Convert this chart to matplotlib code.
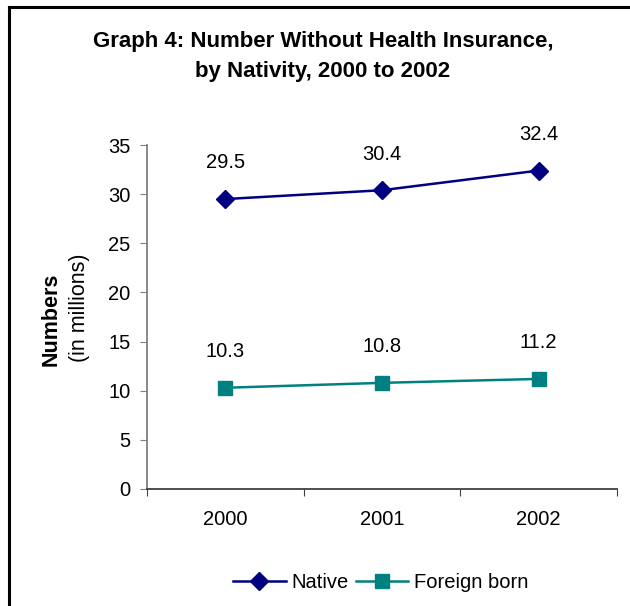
import matplotlib
matplotlib.use("Agg")
import matplotlib.pyplot as plt
from matplotlib.lines import Line2D

years = ["2000", "2001", "2002"]
native = [29.5, 30.4, 32.4]
foreign_born = [10.3, 10.8, 11.2]
y_ticks = [0, 5, 10, 15, 20, 25, 30, 35]

plt.rcParams['font.family'] = ['Liberation Sans', 'DejaVu Sans']

fig = plt.figure(figsize=(6.3, 6.06), dpi=100)
W, H = 630, 606

# outer frame (top and left edges)
fig.add_artist(Line2D([9 / W, 1.0], [1 - 7 / H, 1 - 7 / H], color="black", lw=2.2,
                      transform=fig.transFigure))
fig.add_artist(Line2D([9 / W, 9 / W], [0.0, 1 - 7 / H], color="black", lw=2.2,
                      transform=fig.transFigure))

ax = fig.add_axes([147 / W, 1 - 489 / H, (617 - 147) / W, (489 - 145) / H])

x = [0.5, 1.5, 2.5]
ax.plot(x, native, color="#000080", marker="D", markersize=9, lw=1.8,
        label="Native", clip_on=False)
ax.plot(x, foreign_born, color="#008080", marker="s", markersize=9.5, lw=1.8,
        label="Foreign born", clip_on=False)

for series in (native, foreign_born):
    for xi, v in zip(x, series):
        ax.annotate(f"{v:.1f}", (xi, v), xytext=(0, 26), textcoords="offset points",
                    ha="center", va="center", fontsize=14.5)

ax.set_xlim(0, 3)
ax.set_ylim(0, 35)
ax.set_yticks(y_ticks)
ax.set_yticklabels([str(t) for t in y_ticks], fontsize=14.5)
ax.set_xticks([0, 1, 2, 3])
ax.set_xticklabels([])
ax.set_xticks(x, minor=True)
ax.set_xticklabels(years, minor=True, fontsize=14.5)
ax.tick_params(axis="x", which="minor", length=0, pad=15)
ax.tick_params(axis="x", which="major", length=5, direction="out", color="#404040")
ax.tick_params(axis="y", length=5, direction="out", color="#808080", pad=7)

for s in ["top", "right"]:
    ax.spines[s].set_visible(False)
ax.spines["left"].set_color("#808080")
ax.spines["left"].set_linewidth(1.3)
ax.spines["bottom"].set_color("#404040")
ax.spines["bottom"].set_linewidth(1.3)

fig.text(323 / W, 1 - 42 / H, "Graph 4: Number Without Health Insurance,",
         ha="center", va="center", fontsize=16, fontweight="bold")
fig.text(323 / W, 1 - 72 / H, "by Nativity, 2000 to 2002",
         ha="center", va="center", fontsize=16, fontweight="bold")

fig.text(51 / W, 1 - 319 / H, "Numbers", rotation=90, ha="center", va="center",
         fontsize=15.5, fontweight="bold")
fig.text(79 / W, 1 - 308 / H, "(in millions)", rotation=90, ha="center", va="center",
         fontsize=15.5)

fig.legend(loc="center", bbox_to_anchor=(381 / W, 1 - 583 / H), ncol=2, frameon=False,
           fontsize=14.5, handlelength=2.6, columnspacing=0.35, handletextpad=0.3)

fig.savefig("out.png", dpi=100, facecolor="white")
